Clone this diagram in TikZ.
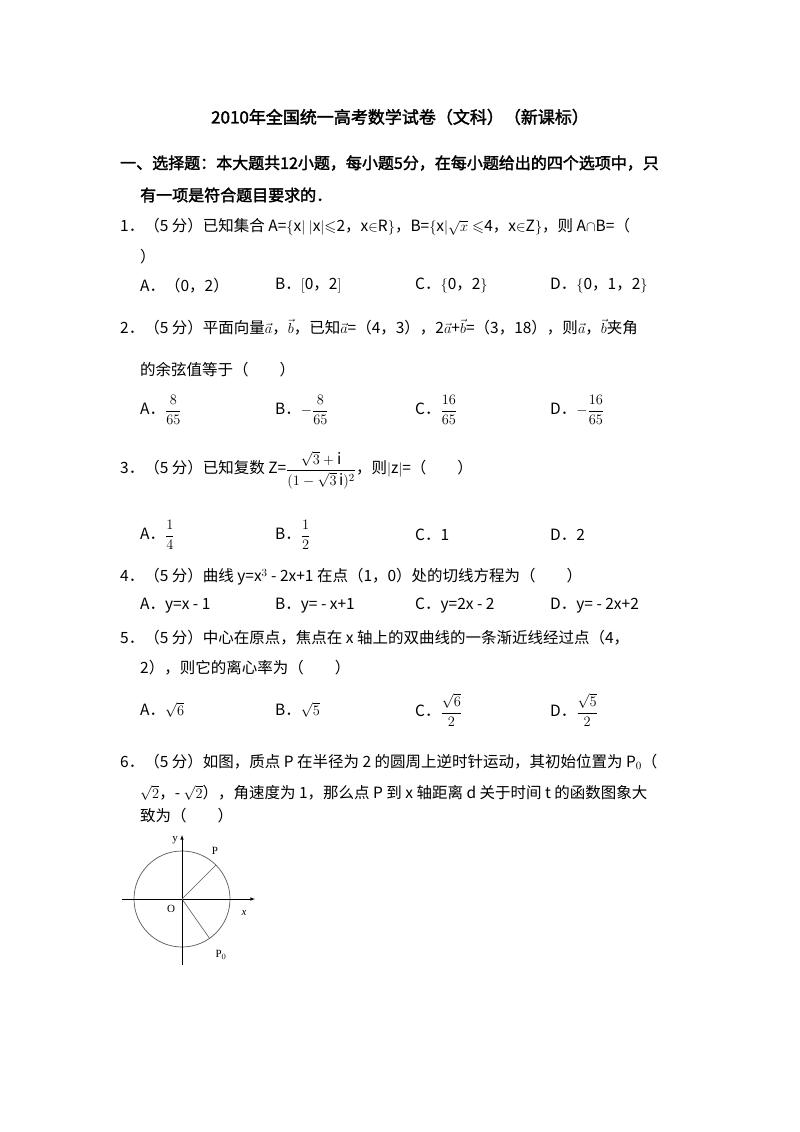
\documentclass[tikz,border=0pt]{standalone}
\usepackage{amsmath,amssymb}
\usepackage{fontspec}
\usetikzlibrary{calc}
\setmainfont{Noto Sans CJK SC}
\newfontfamily\cjkb[FakeBold=2]{Noto Sans CJK SC}
\newfontfamily\serifl{Liberation Serif}
\begin{document}
\begin{tikzpicture}[x=1pt,y=-1pt,
  t/.style={anchor=west,inner sep=0pt,font=\fontsize{15.5}{18}\selectfont},
  tb/.style={t,font=\fontsize{16}{18}\cjkb},
  fl/.style={font=\fontsize{11}{12}\serifl}]
\useasboundingbox (0,0) rectangle (800,1132);
\fill[white] (0,0) rectangle (800,1132);
\node[inner sep=0pt,font=\fontsize{17}{20}\cjkb] (title) at (400,117) {2010年全国统一高考数学试卷（文科）（新课标）};
\node[tb] (s1) at (120,163) {一、选择题：本大题共12小题，每小题5分，在每小题给出的四个选项中，只};
\node[tb] (s2) at (140,195) {有一项是符合题目要求的．};
% Q1
\node[t] (q1) at (120,227) {1．（5 分）已知集合 A=$\{$x$|$ $|$x$|$$\leqslant$2，x$\in$R$\}$，B=$\{$x$|$$\sqrt{x}\leqslant$4，x$\in$Z$\}$，则 A$\cap$B=（};
\node[t] (q1b) at (140,257) {）};
\node[t] (q1a) at (140,286) {A．（0，2）};
\node[t] (q1bb) at (275,286) {B．$[$0，2$]$};
\node[t] (q1c) at (415,286) {C．$\{$0，2$\}$};
\node[t] (q1d) at (550,286) {D．$\{$0，1，2$\}$};
% Q2
\node[t] (q2) at (120,327) {2．（5 分）平面向量$\vec{a}$，$\vec{b}$，已知$\vec{a}$=（4，3），2$\vec{a}$+$\vec{b}$=（3，18），则$\vec{a}$，$\vec{b}$夹角};
\node[t] (q2b) at (140,370) {的余弦值等于（\hspace{2em}）};
\node[t] (q2a) at (140,410) {A．$\dfrac{8}{65}$};
\node[t] (q2bb) at (275,410) {B．$-\dfrac{8}{65}$};
\node[t] (q2c) at (415,410) {C．$\dfrac{16}{65}$};
\node[t] (q2d) at (550,410) {D．$-\dfrac{16}{65}$};
% Q3
\node[t] (q3) at (120,470) {3．（5 分）已知复数 Z=$\dfrac{\sqrt{3}+\mathrm{i}}{(1-\sqrt{3}\,\mathrm{i})^{2}}$，则$|$z$|$=（\hspace{2em}）};
\node[t] (q3a) at (140,535) {A．$\dfrac{1}{4}$};
\node[t] (q3bb) at (275,535) {B．$\dfrac{1}{2}$};
\node[t] (q3c) at (415,535) {C．1};
\node[t] (q3d) at (550,535) {D．2};
% Q4
\node[t] (q4) at (120,577) {4．（5 分）曲线 y=x$^{3}$ - 2x+1 在点（1，0）处的切线方程为（\hspace{2em}）};
\node[t] (q4a) at (140,606) {A．y=x - 1};
\node[t] (q4bb) at (275,606) {B．y= - x+1};
\node[t] (q4c) at (415,606) {C．y=2x - 2};
\node[t] (q4d) at (550,606) {D．y= - 2x+2};
% Q5
\node[t] (q5) at (120,638) {5．（5 分）中心在原点，焦点在 x 轴上的双曲线的一条渐近线经过点（4，};
\node[t] (q5b) at (140,668) {2），则它的离心率为（\hspace{2em}）};
\node[t] (q5a) at (140,710) {A．$\sqrt{6}$};
\node[t] (q5bb) at (275,710) {B．$\sqrt{5}$};
\node[t] (q5c) at (415,710) {C．$\dfrac{\sqrt{6}}{2}$};
\node[t] (q5d) at (550,710) {D．$\dfrac{\sqrt{5}}{2}$};
% Q6
\node[t] (q6) at (120,762) {6．（5 分）如图，质点 P 在半径为 2 的圆周上逆时针运动，其初始位置为 P$_0$（};
\node[t] (q6b) at (140,793) {$\sqrt{2}$，- $\sqrt{2}$），角速度为 1，那么点 P 到 x 轴距离 d 关于时间 t 的函数图象大};
\node[t] (q6c) at (140,816) {致为（\hspace{2em}）};
% figure
\coordinate (O) at (182,899);
\draw[gray!70!black,line width=0.7pt] (O) circle (48);
\coordinate (xl) at (122,899); \coordinate (xr) at (255,899);
\coordinate (yb) at (182,965); \coordinate (yt) at (182,835);
\draw[line width=0.6pt,-latex] (xl) -- (xr);
\draw[line width=0.6pt,-latex] (yb) -- (yt);
\coordinate (P) at ($(O)+(55:48)$);
\coordinate (P0) at ($(O)+(-45:48)$);
\draw[gray!70!black,line width=0.6pt] (O) -- (P);
\draw[gray!70!black,line width=0.6pt] (O) -- (P0);
\node[fl] (ly) at (175,840) {y};
\node[fl] (lP) at (215,851) {P};
\node[fl] (lO) at (171,909) {O};
\node[fl,font=\fontsize{11}{12}\serifl\itshape] (lx) at (244,913) {x};
\node[fl] (lP0) at (221,955) {P$_0$};
\end{tikzpicture}
\end{document}
